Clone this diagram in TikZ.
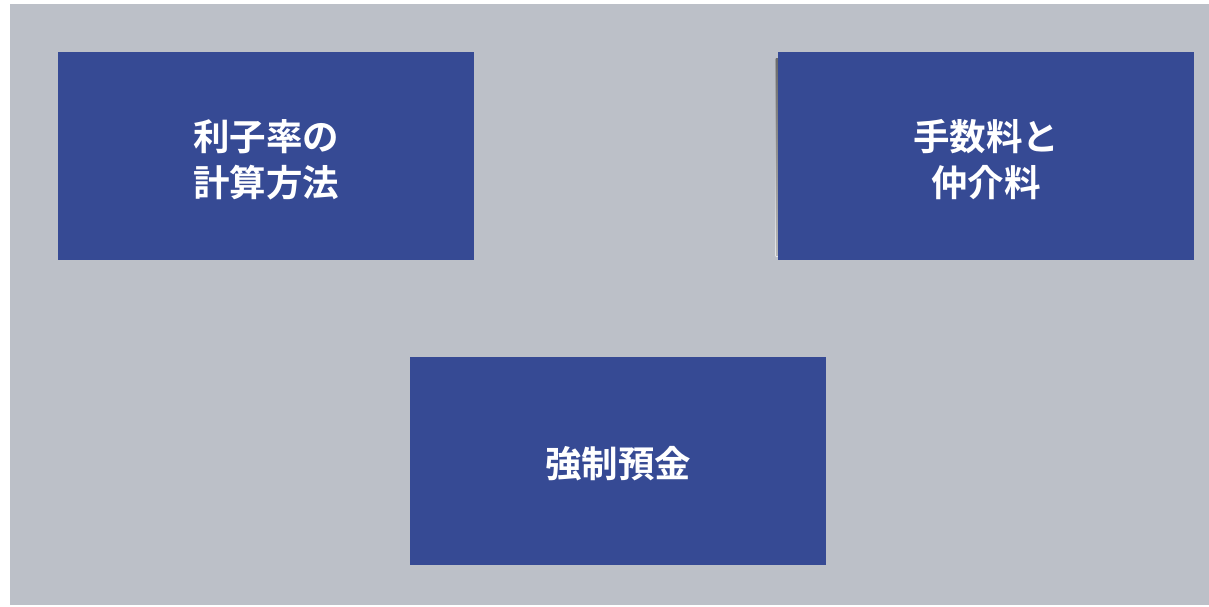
\documentclass[tikz,border=0pt]{standalone}
\usepackage{fontspec}
\newfontfamily\cjk{Noto Sans CJK JP}[BoldFont={Noto Sans CJK JP Bold}]
\definecolor{bgray}{HTML}{BCC0C8}
\definecolor{bblue}{HTML}{364A94}
\definecolor{shade}{HTML}{7F8594}
\tikzset{
  box/.style={fill=bblue, draw=none, minimum width=416pt, minimum height=208pt, inner sep=0pt},
  txt/.style={text=white, align=center, yshift=-3.5pt, inner sep=0pt,
    font=\cjk\bfseries\fontsize{36.5}{46}\selectfont}
}
\begin{document}
\begin{tikzpicture}[x=1pt,y=-1pt]
\useasboundingbox (0,0) rectangle (1209,606);
\fill[white] (0,0) rectangle (1209,606);
\fill[bgray] (10,4) rectangle (1209,605);
\fill[shade, opacity=0.6] (775.5,58) rectangle (778,256);
\node[box, label={[txt]center:利子率の\\計算方法}] (rate) at (266,156) {};
\node[box, label={[txt]center:手数料と\\仲介料}] (fee) at (986,156) {};
\node[box, label={[txt]center:強制預金}] (dep) at (618,460.5) {};
\end{tikzpicture}
\end{document}
